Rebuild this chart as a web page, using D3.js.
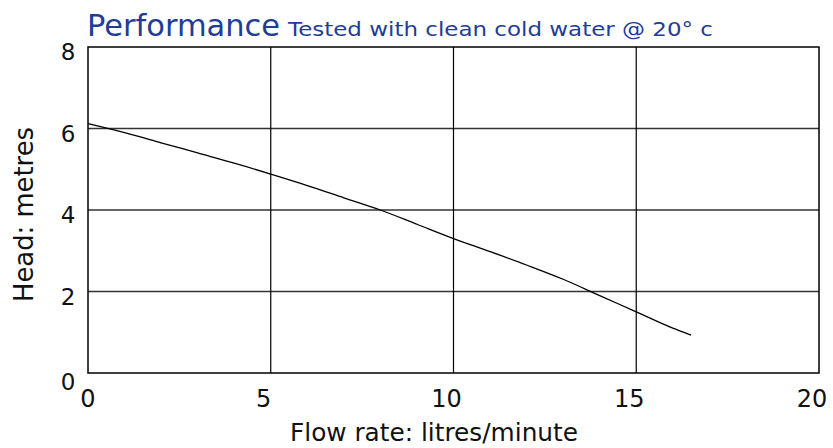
<!DOCTYPE html>
<html>
<head>
<meta charset="utf-8">
<script src="https://cdn.jsdelivr.net/npm/d3@7"></script>
<style>
  html, body { margin: 0; padding: 0; background: #fff; }
  svg text { font-family: "DejaVu Sans", sans-serif; }
</style>
</head>
<body>
<svg id="chart" width="833" height="448"></svg>
<script>
// pump curve
const flow = [0, 1, 2, 3, 4, 5, 6, 7, 8, 9, 10, 11, 12, 13, 14, 15, 16, 16.5];
const head = [6.12, 5.9, 5.65, 5.4, 5.15, 4.88, 4.6, 4.3, 4.0, 3.65, 3.3, 2.98, 2.65, 2.3, 1.9, 1.5, 1.1, 0.93];
const xTicks = [0, 5, 10, 15, 20];
const yTicks = [0, 2, 4, 6, 8];

const svg = d3.select('#chart');
const m = { left: 88, right: 819, top: 47, bottom: 373 };

const x = d3.scaleLinear().domain([0, 20]).range([m.left, m.right]);
const y = d3.scaleLinear().domain([0, 8]).range([m.bottom, m.top]);

// grid
svg.append('g').selectAll('line')
  .data(yTicks.slice(1, -1))
  .join('line')
    .attr('x1', m.left).attr('x2', m.right)
    .attr('y1', d => y(d)).attr('y2', d => y(d))
    .attr('stroke', '#333').attr('stroke-width', 1.3);

svg.append('g').selectAll('line')
  .data(xTicks.slice(1, -1))
  .join('line')
    .attr('x1', d => x(d)).attr('x2', d => x(d))
    .attr('y1', m.top).attr('y2', m.bottom)
    .attr('stroke', '#000').attr('stroke-width', 1.2);

svg.append('rect')
  .attr('x', m.left).attr('y', m.top)
  .attr('width', m.right - m.left).attr('height', m.bottom - m.top)
  .attr('fill', 'none').attr('stroke', '#000').attr('stroke-width', 1.5);

// tick labels
svg.append('g').selectAll('text')
  .data(yTicks)
  .join('text')
    .attr('x', 68).attr('y', d => y(d) + (d === 0 ? 17 : 13))
    .attr('text-anchor', 'middle')
    .attr('font-size', 23).attr('fill', '#111')
    .text(d => d);

svg.append('g').selectAll('text')
  .data(xTicks)
  .join('text')
    .attr('x', d => x(d) - (d === 0 ? 0 : 7)).attr('y', 407)
    .attr('text-anchor', 'middle')
    .attr('font-size', 24).attr('fill', '#111')
    .text(d => d);

// axis titles
svg.append('text')
  .attr('x', 290).attr('y', 441)
  .attr('font-size', 24).attr('fill', '#111')
  .attr('textLength', 288).attr('lengthAdjust', 'spacingAndGlyphs')
  .text('Flow rate: litres/minute');

svg.append('text')
  .attr('transform', 'translate(33,302) rotate(-90)')
  .attr('font-size', 26).attr('fill', '#111')
  .attr('textLength', 175).attr('lengthAdjust', 'spacingAndGlyphs')
  .text('Head: metres');

// title
svg.append('text')
  .attr('x', 87).attr('y', 36).attr('fill', '#1f3d96')
  .attr('font-size', 30)
  .attr('textLength', 193).attr('lengthAdjust', 'spacingAndGlyphs')
  .text('Performance');
svg.append('text')
  .attr('x', 288).attr('y', 36).attr('fill', '#1f3d96')
  .attr('font-size', 20)
  .attr('textLength', 425).attr('lengthAdjust', 'spacingAndGlyphs')
  .text('Tested with clean cold water @ 20° c');

// curve
const line = d3.line()
  .x((d, i) => x(flow[i]))
  .y(d => y(d))
  .curve(d3.curveMonotoneX);

svg.append('path')
  .datum(head)
  .attr('d', line)
  .attr('fill', 'none')
  .attr('stroke', '#000')
  .attr('stroke-width', 1.3);
</script>
</body>
</html>
